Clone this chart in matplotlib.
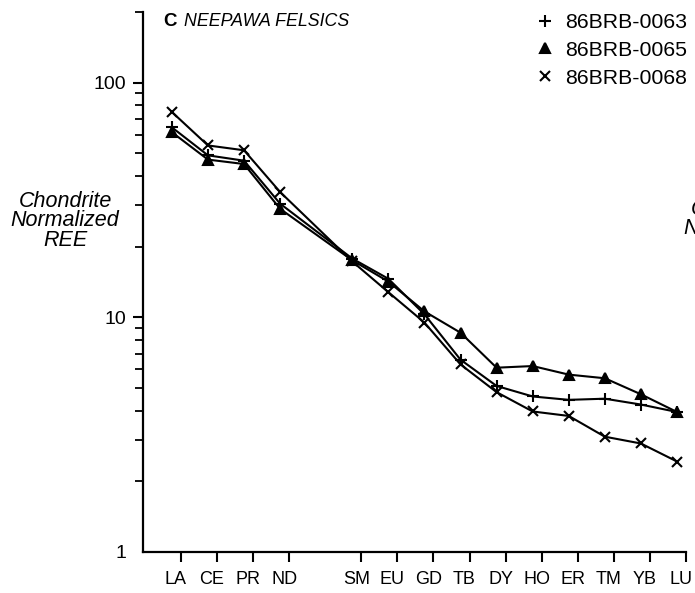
import matplotlib
matplotlib.use("Agg")
import matplotlib.pyplot as plt
import matplotlib.transforms as mtransforms
from matplotlib.lines import Line2D
from matplotlib.ticker import LogLocator, NullFormatter, FixedLocator

plt.rcParams['font.family'] = ['Liberation Sans', 'DejaVu Sans']

# Rare-earth elements; PM (position 4) is not analysed
elements = ["LA", "CE", "PR", "ND", "SM", "EU", "GD", "TB", "DY", "HO", "ER", "TM", "YB", "LU"]
positions = [0, 1, 2, 3, 5, 6, 7, 8, 9, 10, 11, 12, 13, 14]

samples = ["86BRB-0063", "86BRB-0065", "86BRB-0068"]
ree_0063 = [64.5, 49.0, 46.5, 30.5, 17.8, 14.6, 10.3, 6.6, 5.1, 4.6, 4.45, 4.5, 4.25, 3.95]
ree_0065 = [61.5, 47.0, 45.0, 29.0, 17.5, 14.2, 10.6, 8.6, 6.1, 6.2, 5.7, 5.5, 4.7, 3.95]
ree_0068 = [75.0, 54.0, 51.5, 34.2, 17.3, 12.8, 9.5, 6.3, 4.8, 3.97, 3.8, 3.1, 2.9, 2.43]
markers = ["+", "^", "x"]
marker_sizes = [8.5, 7, 6.5]

W, H = 695, 593
fig = plt.figure(figsize=(W / 100, H / 100), dpi=100)
ax = fig.add_axes([143 / W, 1 - 552 / H, (686 - 143) / W, (552 - 12) / H])

for vals, m, ms in zip([ree_0063, ree_0065, ree_0068], markers, marker_sizes):
    ax.plot(positions, vals, color="black", lw=1.5, marker=m, ms=ms,
            mew=1.5, mfc="black", mec="black")

ax.set_yscale("log")
ax.set_ylim(1, 200)
ax.set_xlim(-0.8, 14.25)

for side in ("top", "right"):
    ax.spines[side].set_visible(False)
for side in ("left", "bottom"):
    ax.spines[side].set_linewidth(1.6)

# y axis ticks
ax.yaxis.set_major_locator(FixedLocator([1, 10, 100]))
ax.set_yticklabels(["1", "10", "100"])
ax.yaxis.set_minor_locator(LogLocator(base=10, subs=range(2, 10)))
ax.yaxis.set_minor_formatter(NullFormatter())
ax.tick_params(axis="y", which="major", direction="out", length=7, width=1.5,
               labelsize=14, pad=5)
ax.tick_params(axis="y", which="minor", direction="out", length=6, width=1.3)
ax.yaxis.get_major_ticks()[0].tick1line.set_visible(False)

# x axis ticks
ax.set_xticks([p + 0.25 for p in positions])
ax.set_xticklabels(elements)
ax.tick_params(axis="x", direction="out", length=7, width=1.5, labelsize=13, pad=7)
shift = mtransforms.ScaledTranslation(-5 / 100, 0, fig.dpi_scale_trans)
for lab in ax.get_xticklabels():
    lab.set_transform(lab.get_transform() + shift)

# Axis label
fig.text(65 / W, 1 - 221 / H, "Chondrite\nNormalized\nREE", ha="center", va="center",
         style="italic", fontsize=15.5, linespacing=0.88)
# Neighbouring panel's axis label, cut by the figure edge
fig.text(683 / W, 1 - 229 / H, "Chondrite\nNormalized\nREE", ha="left", va="center",
         multialignment="center", style="italic", fontsize=15.5, linespacing=0.88)

# Panel title
fig.text(163 / W, 1 - 22 / H, "C", ha="left", va="center", fontweight="bold", fontsize=13.5)
fig.text(184 / W, 1 - 22 / H, "NEEPAWA FELSICS", ha="left", va="center",
         style="italic", fontsize=12.8)

handles = [Line2D([], [], ls="none", marker=m, ms=ms, mew=1.5, color="black")
           for m, ms in zip(markers, marker_sizes)]
fig.legend(handles, samples, loc="upper left", bbox_to_anchor=(534 / W, 1 - 13 / H),
           frameon=False, fontsize=15.3, handlelength=1.0, handletextpad=0.45,
           labelspacing=0.42, borderpad=0, borderaxespad=0)

fig.savefig("out.png", dpi=100)
